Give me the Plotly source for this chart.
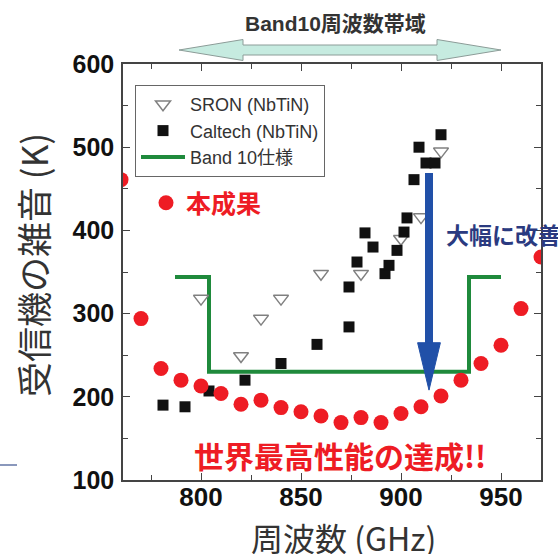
import plotly.graph_objects as go

# ---------------- data ----------------
this_work_freq = [760, 770, 780, 790, 800, 810, 820, 830, 840, 850, 860,
                  870, 880, 890, 900, 910, 920, 930, 940, 950, 960, 970]
this_work_trx = [461, 294, 234, 220, 213, 204, 191, 196, 187, 182, 177,
                 169, 175, 169, 180, 188, 201, 220, 240, 262, 306, 368]

sron_freq = [800, 820, 830, 840, 860, 880, 900, 910, 920]
sron_trx = [318, 249, 294, 318, 348, 348, 390, 416, 495]

caltech_freq = [781, 792, 804, 822, 840, 858, 874, 874, 878, 882, 886,
                892, 894, 898, 901.5, 903, 906.5, 909, 912.5, 917, 920]
caltech_trx = [190, 188, 207, 220, 240, 263, 284, 332, 362, 397, 380,
               348, 358, 376, 398, 415, 461, 500, 481, 481, 515]

spec_freq = [787, 804, 804, 934, 934, 950]
spec_trx = [344, 344, 230, 230, 344, 344]

band_lo, band_hi = 789, 950           # Band 10 frequency range (top arrow)
arrow_freq, arrow_top, arrow_tip = 914, 469, 208   # "大幅に改善" arrow

x_range = [761, 970]
y_range = [100, 600]
x_ticks = [800, 850, 900, 950]
y_ticks = [100, 200, 300, 400, 500, 600]

# ---------------- styling ----------------
LAT = "Liberation Sans, Arial, Noto Sans CJK JP"
CJK = "Noto Sans CJK JP, Liberation Sans"
RED = "#ee1c24"
GREEN = "#1f8a3c"
BLUE = "#2150a8"

fig = go.Figure()

fig.add_trace(go.Scatter(
    x=spec_freq, y=spec_trx, mode="lines", name="Band 10仕様",
    line=dict(color=GREEN, width=4), legendrank=3))
fig.add_trace(go.Scatter(
    x=sron_freq, y=sron_trx, mode="markers", name="SRON (NbTiN)",
    marker=dict(symbol="triangle-down-open", size=13, color="#808080",
                line=dict(width=1.5, color="#808080")), legendrank=1))
fig.add_trace(go.Scatter(
    x=caltech_freq, y=caltech_trx, mode="markers", name="Caltech (NbTiN)",
    marker=dict(symbol="square", size=11, color="#111111"), legendrank=2))
fig.add_trace(go.Scatter(
    x=this_work_freq, y=this_work_trx, mode="markers", name="本成果",
    marker=dict(symbol="circle", size=15, color=RED), legend="legend2",
    cliponaxis=True))

# plot area geometry (pixels) for paper-coordinate helpers
W, H = 558, 554
L, R, T, B = 123, 17, 64, 74
PW, PH = W - L - R, H - T - B


def px_x(px):
    return (px - L) / PW


def px_y(py):
    return (H - B - py) / PH


def data_to_paper_x(v):
    return (v - x_range[0]) / (x_range[1] - x_range[0])


shapes = []
# blue arrow
head_half = 5.7
head_len = 57
shapes.append(dict(type="line", xref="x", yref="y",
                   x0=arrow_freq, x1=arrow_freq, y0=arrow_top, y1=arrow_tip + head_len - 2,
                   line=dict(color=BLUE, width=8)))
shapes.append(dict(type="path", xref="x", yref="y",
                   path=f"M {arrow_freq - head_half},{arrow_tip + head_len} "
                        f"L {arrow_freq + head_half},{arrow_tip + head_len} "
                        f"L {arrow_freq},{arrow_tip} Z",
                   fillcolor=BLUE, line=dict(color=BLUE, width=1)))

# top double arrow for Band 10 range
lo = data_to_paper_x(band_lo)
hi = data_to_paper_x(band_hi)
yc = px_y(50)
hh = 10.5 / PH
sh = 5.0 / PH
hl = 64 / PW
p = (f"M {lo},{yc} L {lo + hl},{yc + hh} L {lo + hl},{yc + sh} "
     f"L {hi - hl},{yc + sh} L {hi - hl},{yc + hh} L {hi},{yc} "
     f"L {hi - hl},{yc - hh} L {hi - hl},{yc - sh} L {lo + hl},{yc - sh} "
     f"L {lo + hl},{yc - hh} Z")
shapes.append(dict(type="path", xref="paper", yref="paper", path=p,
                   fillcolor="#c6ebe0", line=dict(color="#8c9c98", width=1)))
# small stray line at left
shapes.append(dict(type="line", xref="paper", yref="paper",
                   x0=px_x(0), x1=px_x(17), y0=px_y(465), y1=px_y(465),
                   line=dict(color="#8a98bc", width=2)))


def note(text, x, y, font, xanchor="center", **kw):
    return dict(text=text, x=px_x(x), y=px_y(y), xref="paper", yref="paper",
                xanchor=xanchor, yanchor="middle", showarrow=False, font=font, **kw)


annotations = [
    note("Band10周波数帯域", 335, 23,
         dict(family=LAT, size=21, color="#333333", weight="bold")),
    note("大幅に改善", 444, 234,
         dict(family=CJK, size=23, color="#2a3a80", weight="bold"), xanchor="left"),
    note("世界最高性能の達成!!", 340, 455,
         dict(family=CJK, size=30, color=RED, weight="bold")),
    note("受信機の雑音 (K)", 32, 265,
         dict(family=CJK, size=35, color="#333333"), textangle=-90),
    note("周波数 (GHz)", 343, 537,
         dict(family=CJK, size=32, color="#333333")),
]

axis_common = dict(showgrid=False, zeroline=False, showline=True, linecolor="#444444",
                   linewidth=1.5, mirror="ticks", ticks="inside", ticklen=7,
                   tickwidth=1.3, tickcolor="#444444",
                   tickfont=dict(family=LAT, size=25, color="#111111", weight="bold"))

fig.update_layout(
    width=W, height=H,
    margin=dict(l=L, r=R, t=T, b=B),
    paper_bgcolor="white", plot_bgcolor="white",
    showlegend=True,
    xaxis=dict(range=x_range, tickvals=x_ticks, ticklabelstandoff=-7,
               minor=dict(dtick=25, ticks="inside", ticklen=5, tickcolor="#444444"),
               **axis_common),
    yaxis=dict(range=y_range, tickvals=y_ticks, ticklabelstandoff=2,
               minor=dict(dtick=50, ticks="inside", ticklen=5, tickcolor="#444444"),
               **axis_common),
    legend=dict(x=px_x(135), y=px_y(85), xanchor="left", yanchor="top",
                bgcolor="rgba(255,255,255,0.9)", bordercolor="#666666", borderwidth=1,
                font=dict(family=LAT, size=18, color="#333333"),
                itemwidth=44, tracegroupgap=0),
    legend2=dict(x=px_x(146), y=px_y(180), xanchor="left", yanchor="top",
                 bgcolor="rgba(0,0,0,0)", borderwidth=0,
                 font=dict(family=CJK, size=25, color=RED, weight="bold")),
    shapes=shapes,
    annotations=annotations,
)
fig.update_xaxes(tickfont=dict(size=26))

fig.write_html("out.html",
               config={"displayModeBar": False},
               post_script="document.body.style.margin='0px';"
                           "document.body.style.overflow='hidden';")
